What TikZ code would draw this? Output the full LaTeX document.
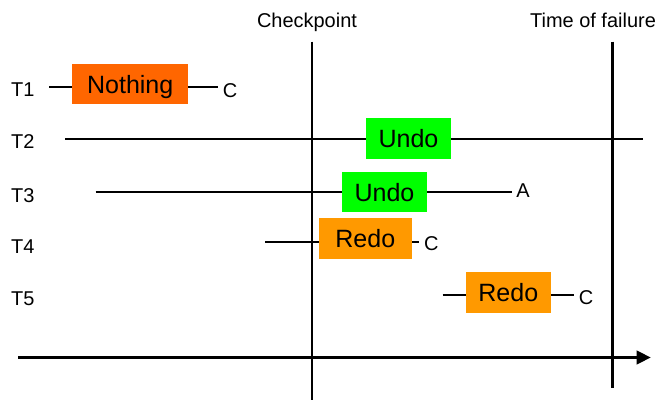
\documentclass[tikz,border=0pt]{standalone}
\usepackage{fontspec}
\setmainfont{Liberation Sans}
\usetikzlibrary{arrows.meta}
\definecolor{nothingorange}{HTML}{FF6600}
\definecolor{undogreen}{HTML}{00FF00}
\definecolor{redoorange}{HTML}{FF9900}

\begin{document}
\begin{tikzpicture}[x=0.025cm,y=-0.025cm,line width=1.7pt,
		lbl/.style={inner sep=0pt,font=\fontsize{14.2}{17}\selectfont,text height=10.2pt,text depth=0pt},
		endlbl/.style={lbl,anchor=west,inner xsep=0.09cm},
		act/.style={inner sep=0pt,minimum height=1.01cm,font=\fontsize{17.8}{21}\selectfont,text height=12.7pt,text depth=0pt}]
		\useasboundingbox (0,0) rectangle (659,400);
		
		\node[lbl] (chk) at (307,20.5) {Checkpoint};
		\node[lbl] (fail) at (593,20) {Time of failure};
		
		\node[lbl,anchor=west] (t1) at (10,89.7) {T1};
		\node[lbl,anchor=west] (t2) at (10,141.7) {T2};
		\node[lbl,anchor=west] (t3) at (10,195) {T3};
		\node[lbl,anchor=west] (t4) at (10,246.7) {T4};
		\node[lbl,anchor=west] (t5) at (10,298) {T5};
		
		% transaction lines
		\coordinate (s1) at (49,87.3);
		\coordinate (s2) at (65,139);
		\coordinate (s3) at (95.7,191.7);
		\coordinate (s4) at (265.3,242);
		\coordinate (s5) at (442.7,295);
		\coordinate (e2) at (643.3,139);
		
		\node[endlbl] (c1) at (218,90.7) {C};
		\node[endlbl] (a3) at (511.7,190.7) {A};
		\node[endlbl] (c4) at (419.3,243.3) {C};
		\node[endlbl] (c5) at (574,297.7) {C};
		
		\draw (s1) -- (s1 -| c1.west);
		\draw (s2) -- (e2);
		\draw (s3) -- (s3 -| a3.west);
		\draw (s4) -- (s4 -| c4.west);
		\draw (s5) -- (s5 -| c5.west);
		
		% checkpoint and failure
		\coordinate (cptop) at (312,41.7);
		\coordinate (cpbot) at (312,400);
		\coordinate (ftop) at (612.5,41.7);
		\coordinate (fbot) at (612.5,387.7);
		\draw (cptop) -- (cpbot);
		\draw (ftop) -- (fbot);
		
		% actions
		\node[act,fill=nothingorange,minimum width=2.9cm] (n1) at (130.2,84.2) {Nothing};
		\node[act,fill=undogreen,minimum width=2.125cm] (u2) at (408.5,138.3) {Undo};
		\node[act,fill=undogreen,minimum width=2.125cm] (u3) at (384.5,192.2) {Undo};
		\node[act,fill=redoorange,minimum width=2.32cm] (r4) at (365.3,238.3) {Redo};
		\node[act,fill=redoorange,minimum width=2.12cm] (r5) at (508.3,292.5) {Redo};
		
		% time axis
		\coordinate (ax0) at (18,357.5);
		\coordinate (ax1) at (650.7,357.5);
		\draw[-{Triangle[length=0.35cm,width=0.34cm]}] (ax0) -- (ax1);
	\end{tikzpicture}
\end{document}
